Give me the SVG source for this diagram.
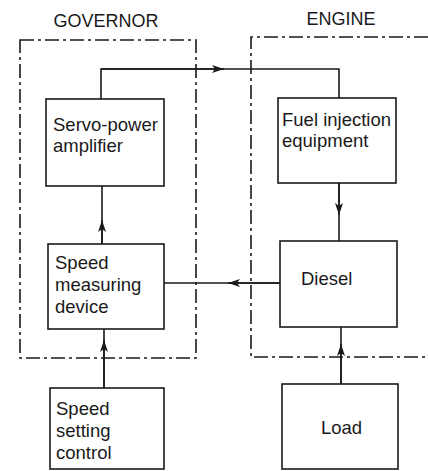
<svg xmlns="http://www.w3.org/2000/svg" width="428" height="471" viewBox="0 0 428 471">
<style>
.bg{fill:#ffffff}
.box{fill:none;stroke:#1a1a1a;stroke-width:1.6}
.dash{fill:none;stroke:#1a1a1a;stroke-width:1.6;stroke-dasharray:14 4 3 4}
.ln{fill:none;stroke:#1a1a1a;stroke-width:1.6}
.t{font-family:"Liberation Sans",Arial,sans-serif;font-size:18.5px;fill:#1a1a1a}
.h{font-family:"Liberation Sans",Arial,sans-serif;font-size:18px;fill:#1a1a1a;text-anchor:middle}
</style>
<defs>
<marker id="ah" viewBox="0 0 12 8" refX="12" refY="4" markerWidth="12" markerHeight="8" markerUnits="userSpaceOnUse" orient="auto">
<path d="M0,0 L12,4 L0,8 L3,4 Z" fill="#1a1a1a"/>
</marker>
</defs>
<rect class="bg" x="0" y="0" width="428" height="471"/>

<g id="governor">
<rect class="dash" x="20" y="40" width="176" height="318"/>
<text class="h" x="106" y="27">GOVERNOR</text>
</g>
<g id="engine">
<path class="dash" d="M428,37 H251 V357 H428"/>
<text class="h" x="341" y="25">ENGINE</text>
</g>

<g id="connectors">
<path class="ln" d="M101,99 V69 H339 V98"/>
<path class="ln" d="M101,69 H224" marker-end="url(#ah)"/>
<path class="ln" d="M339,183 V241"/>
<path class="ln" d="M339,183 V215" marker-end="url(#ah)"/>
<path class="ln" d="M280,283 H164"/>
<path class="ln" d="M280,283 H228" marker-end="url(#ah)"/>
<path class="ln" d="M102,244 V186"/>
<path class="ln" d="M102,244 V220" marker-end="url(#ah)"/>
<path class="ln" d="M104,388 V329"/>
<path class="ln" d="M104,388 V340" marker-end="url(#ah)"/>
<path class="ln" d="M341,384 V327"/>
<path class="ln" d="M341,384 V344" marker-end="url(#ah)"/>
</g>

<g id="servo">
<rect class="box" x="46" y="99" width="118" height="87"/>
<text class="t" x="53" y="131">Servo-power</text>
<text class="t" x="53" y="152">amplifier</text>
</g>
<g id="fuel">
<rect class="box" x="278" y="98" width="118" height="85"/>
<text class="t" x="282" y="126">Fuel injection</text>
<text class="t" x="282" y="147">equipment</text>
</g>
<g id="measuring">
<rect class="box" x="48" y="244" width="116" height="85"/>
<text class="t" x="55" y="269">Speed</text>
<text class="t" x="55" y="291">measuring</text>
<text class="t" x="55" y="313">device</text>
</g>
<g id="diesel">
<rect class="box" x="280" y="241" width="117" height="86"/>
<text class="t" x="301" y="285">Diesel</text>
</g>
<g id="setting">
<rect class="box" x="50" y="388" width="114" height="81"/>
<text class="t" x="56" y="415">Speed</text>
<text class="t" x="56" y="437">setting</text>
<text class="t" x="56" y="459">control</text>
</g>
<g id="load">
<rect class="box" x="282" y="384" width="116" height="85"/>
<text class="t" x="321" y="434">Load</text>
</g>
</svg>
